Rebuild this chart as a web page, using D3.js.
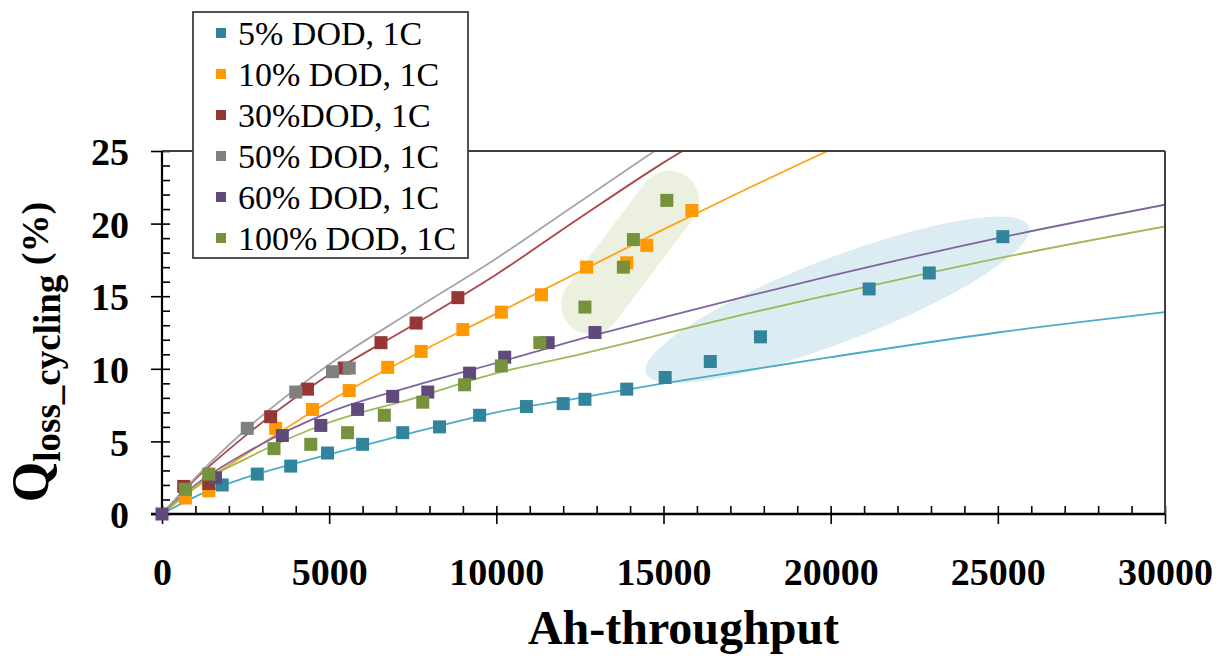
<!DOCTYPE html>
<html>
<head>
<meta charset="utf-8">
<script src="https://cdn.jsdelivr.net/npm/d3@7"></script>
<style>
  body { margin: 0; background: #fff; }
  svg { display: block; }
  .serif { font-family: 'Liberation Serif', 'Times New Roman', serif; }
  .tick text { font-family: 'Liberation Serif', 'Times New Roman', serif; font-weight: bold; font-size: 38px; fill: #000; }
</style>
</head>
<body>
<div id="chart"></div>
<script>
// measured points, [Ah-throughput, capacity loss %]
const dod5 = [[1800,2.0],[2850,2.75],[3850,3.3],[4950,4.2],[6000,4.8],[7200,5.6],[8300,6.0],[9500,6.8],
  [10900,7.4],[12000,7.6],[12650,7.9],[13900,8.6],[15050,9.4],[16400,10.5],[17900,12.2],[21150,15.5],[22950,16.6],[25150,19.1]];
const dod10 = [[700,1.1],[1400,1.6],[3400,5.9],[4500,7.2],[5600,8.5],[6750,10.1],[7750,11.2],[9000,12.7],
  [10150,13.9],[11350,15.1],[12700,17.0],[13900,17.3],[14500,18.5],[15850,20.9]];
const dod30 = [[650,1.9],[1400,2.1],[3250,6.7],[4350,8.6],[5450,10.05],[6550,11.8],[7600,13.15],[8850,14.9]];
const dod50 = [[2550,5.9],[4000,8.4],[5100,9.8],[5600,10.05]];
const dod60 = [[0,0],[1600,2.5],[3600,5.4],[4750,6.1],[5850,7.2],[6900,8.1],[7950,8.4],[9200,9.7],
  [10250,10.8],[11550,11.8],[12950,12.5]];
const dod100 = [[700,1.7],[1400,2.75],[3350,4.5],[4450,4.8],[5550,5.6],[6650,6.8],[7800,7.7],[9050,8.9],
  [10150,10.2],[11300,11.8],[12650,14.25],[13800,17.0],[14100,18.9],[15100,21.6]];

// model curves at these x values
const fitX = [0, 1000, 2500, 5000, 7500, 10000, 12500, 15000, 17500, 20000, 25000, 30000];
const fit5 = [0, 1.2, 2.5, 4.1, 5.6, 7.0, 8.0, 9.0, 9.9, 10.8, 12.5, 13.9];
const fit10 = [0, 1.8, 4.1, 7.75, 10.9, 13.8, 16.7, 19.6, 22.4, 25.1, 30.5, 35.5];
const fit30 = [0, 2.4, 5.4, 9.6, 13.0, 16.5, 20.4, 24.2, 27.6, 31, 37, 43];
const fit50 = [0, 2.5, 5.8, 10.3, 14.0, 17.6, 21.5, 25.4, 29, 32.5, 39, 45];
const fit60 = [0, 2.0, 4.2, 7.0, 8.8, 10.4, 12.05, 13.55, 15.0, 16.4, 19.0, 21.3];
const fit100 = [0, 1.9, 3.8, 6.3, 7.95, 9.7, 11.0, 12.4, 13.8, 15.1, 17.6, 19.8];

const seriesNames = ['5% DOD, 1C', '10% DOD, 1C', '30%DOD, 1C', '50% DOD, 1C', '60% DOD, 1C', '100% DOD, 1C'];
const markerColors = ['#31849b', '#ff9900', '#953735', '#7f7f7f', '#604a7b', '#76923c'];
const lineColors = ['#4bacc6', '#ffa31a', '#a8474a', '#a6a6a6', '#8064a2', '#9bbb59'];

const xTicks = [0, 5000, 10000, 15000, 20000, 25000, 30000];
const yTicks = [0, 5, 10, 15, 20, 25];

const points = [dod5, dod10, dod30, dod50, dod60, dod100];
const fits = [fit5, fit10, fit30, fit50, fit60, fit100];

const width = 1225, height = 659;
const margin = {left: 162, right: 60, top: 151, bottom: 145};

const svg = d3.select('#chart').append('svg')
  .attr('width', width).attr('height', height)
  .attr('viewBox', `0 0 ${width} ${height}`);

const x = d3.scaleLinear().domain([0, 30000]).range([margin.left, width - margin.right]);
const y = d3.scaleLinear().domain([0, 25]).range([height - margin.bottom, margin.top]);

svg.append('clipPath').attr('id', 'plotClip')
  .append('rect')
  .attr('x', x(0)).attr('y', y(25))
  .attr('width', x(30000) - x(0)).attr('height', y(0) - y(25));

// highlight shapes (centre in data units, size in px)
const blob = svg.append('g').attr('clip-path', 'url(#plotClip)');
blob.append('ellipse')
  .attr('transform', `translate(${x(20200)},${y(14.75)}) rotate(-21)`)
  .attr('rx', 205).attr('ry', 42)
  .attr('fill', '#dbedf3');
blob.append('rect')
  .attr('transform', `translate(${x(14000)},${y(18.0)}) rotate(-53)`)
  .attr('x', -95).attr('y', -30).attr('width', 190).attr('height', 60)
  .attr('rx', 30).attr('ry', 30)
  .attr('fill', '#ebf0df');

// fit lines
const line = d3.line()
  .x((d, i) => x(fitX[i]))
  .y(d => y(d))
  .curve(d3.curveMonotoneX);

svg.append('g').attr('clip-path', 'url(#plotClip)')
  .selectAll('path').data(fits).join('path')
  .attr('d', line)
  .attr('fill', 'none')
  .attr('stroke', (d, i) => lineColors[i])
  .attr('stroke-width', 1.8);

// axes: minor ticks inside, major ticks outside + labels
const yMinor = svg.append('g').attr('transform', `translate(${x(0)},0)`)
  .call(d3.axisRight(y).tickValues(d3.range(0, 26, 1)).tickSize(8).tickFormat(''));
const yMajor = svg.append('g').attr('transform', `translate(${x(0)},0)`)
  .call(d3.axisLeft(y).tickValues(yTicks).tickSize(11).tickPadding(22).tickFormat(d3.format('d')));
yMajor.selectAll('text').attr('dy', '0.36em');

const xMinor = svg.append('g').attr('transform', `translate(0,${y(0)})`)
  .call(d3.axisTop(x).tickValues(d3.range(0, 30001, 1000)).tickSize(8).tickFormat(''));
const xMajor = svg.append('g').attr('transform', `translate(0,${y(0)})`)
  .call(d3.axisBottom(x).tickValues(xTicks).tickSize(10).tickFormat(d3.format('d')));
xMajor.selectAll('text').attr('y', 71).attr('dy', 0);

[yMinor, yMajor, xMinor, xMajor].forEach(g => {
  g.select('.domain').remove();
  g.selectAll('line').attr('stroke', '#000').attr('stroke-width', 1.6);
});

// frame
svg.append('line')
  .attr('x1', x(30000)).attr('x2', x(30000)).attr('y1', y(25)).attr('y2', y(0))
  .attr('stroke', '#404040').attr('stroke-width', 2);
svg.append('line')
  .attr('x1', x(0)).attr('x2', x(30000)).attr('y1', y(25)).attr('y2', y(25))
  .attr('stroke', '#404040').attr('stroke-width', 2);
svg.append('line')
  .attr('x1', x(0)).attr('x2', x(0)).attr('y1', y(25)).attr('y2', y(0))
  .attr('stroke', '#000').attr('stroke-width', 2.2);
svg.append('line')
  .attr('x1', x(0) - 11).attr('x2', x(30000)).attr('y1', y(0)).attr('y2', y(0))
  .attr('stroke', '#000').attr('stroke-width', 2.6);

// markers
const sq = 13;
points.forEach((pts, i) => {
  svg.append('g').selectAll('rect').data(pts).join('rect')
    .attr('x', d => x(d[0]) - sq / 2)
    .attr('y', d => y(d[1]) - sq / 2)
    .attr('width', sq).attr('height', sq)
    .attr('fill', markerColors[i]);
});

// axis titles
svg.append('text')
  .attr('class', 'serif')
  .attr('x', (x(0) + x(30000)) / 2 + 20).attr('y', 644)
  .attr('text-anchor', 'middle')
  .attr('font-weight', 'bold').attr('font-size', 48)
  .text('Ah-throughput');

const yTitle = svg.append('text')
  .attr('class', 'serif')
  .attr('transform', 'translate(48,352) rotate(-90)')
  .attr('text-anchor', 'middle')
  .attr('font-weight', 'bold');
yTitle.append('tspan').attr('font-size', 52).text('Q');
yTitle.append('tspan').attr('font-size', 37).attr('dy', 12).text('loss_cycling');
yTitle.append('tspan').attr('font-size', 38).attr('dy', -12).text(' (%)');

// legend
const legend = svg.append('g').attr('transform', 'translate(193,12)');
legend.append('rect')
  .attr('width', 275).attr('height', 246)
  .attr('fill', '#fff').attr('stroke', '#404040').attr('stroke-width', 1.8);
const rows = legend.selectAll('g.row').data(seriesNames).join('g')
  .attr('class', 'row')
  .attr('transform', (d, i) => `translate(0,${21 + i * 41})`);
rows.append('rect')
  .attr('x', 23).attr('y', -5).attr('width', 10).attr('height', 10)
  .attr('fill', (d, i) => markerColors[i]);
rows.append('text')
  .attr('class', 'serif')
  .attr('x', 45).attr('dy', '0.35em')
  .attr('font-size', 34)
  .text(d => d);
</script>
</body>
</html>
